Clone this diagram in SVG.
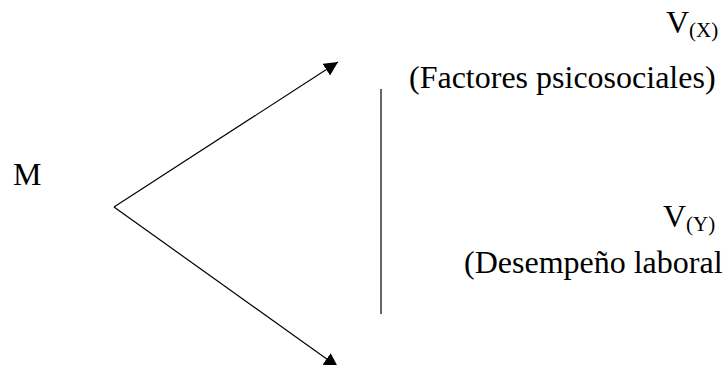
<svg xmlns="http://www.w3.org/2000/svg" width="726" height="365" viewBox="0 0 726 365">
<defs>
<style>
text{font-family:"Liberation Serif","Times New Roman",serif;fill:#000}
.t{font-size:32px}
.s{font-size:21px}
.ln{stroke:#000;stroke-width:1.2;fill:none}
</style>
<marker id="ah" viewBox="0 0 10 10" refX="10" refY="5" markerWidth="14" markerHeight="14" markerUnits="userSpaceOnUse" orient="auto">
<path d="M0,0 L10,5 L0,10 z" fill="#000"/>
</marker>
</defs>
<rect width="726" height="365" fill="#fff"/>
<g id="connectors">
<line class="ln" x1="114" y1="207" x2="338" y2="62" marker-end="url(#ah)"/>
<line class="ln" x1="114" y1="207" x2="338" y2="367" marker-end="url(#ah)"/>
<line class="ln" x1="381" y1="89" x2="381" y2="314"/>
</g>
<g id="node-M"><text class="t" x="13" y="185">M</text></g>
<g id="node-VX"><text class="t" x="666" y="33">V<tspan class="s" dy="4">(X)</tspan></text></g>
<g id="label-VX"><text class="t" x="409" y="88">(Factores psicosociales)</text></g>
<g id="node-VY"><text class="t" x="663" y="227">V<tspan class="s" dy="4">(Y)</tspan></text></g>
<g id="label-VY"><text class="t" x="464" y="273">(Desempeño laboral</text></g>
</svg>
